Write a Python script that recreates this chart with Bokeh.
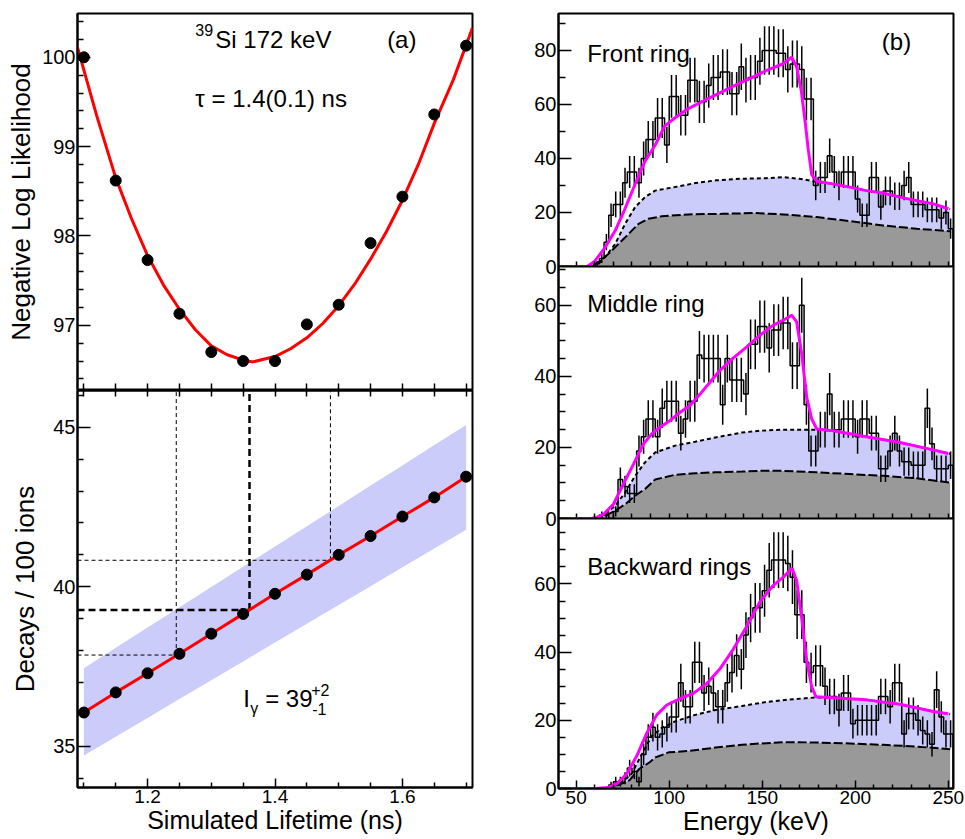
import numpy as np
from bokeh.plotting import figure
from bokeh.models import Range1d, FixedTicker, LinearAxis, Label
from bokeh.layouts import row, column
from bokeh.embed import file_html
from bokeh.resources import INLINE

FONT = "Liberation Sans"

# ---------------- (a) lifetime scan ----------------
lifetime = [1.10, 1.15, 1.20, 1.25, 1.30, 1.35, 1.40, 1.45, 1.50, 1.55, 1.60, 1.65, 1.70]
nll = [100.0, 98.62, 97.73, 97.13, 96.70, 96.60, 96.60, 97.01, 97.23, 97.92, 98.44, 99.36, 100.13]
nll_fit_t = [1.09, 1.12, 1.15, 1.175, 1.20, 1.225, 1.25, 1.275, 1.30, 1.325, 1.35, 1.365, 1.40,
             1.425, 1.45, 1.475, 1.50, 1.525, 1.55, 1.575, 1.60, 1.625, 1.65, 1.68, 1.71]
nll_fit_v = [100.11, 99.35, 98.65, 98.19, 97.78, 97.45, 97.18, 96.95, 96.77, 96.67, 96.61, 96.59, 96.65,
             96.74, 96.86, 97.02, 97.22, 97.46, 97.74, 98.05, 98.40, 98.80, 99.26, 99.75, 100.33]

decays = [36.06, 36.69, 37.29, 37.90, 38.53, 39.15, 39.78, 40.38, 41.00, 41.59, 42.20, 42.80, 43.45]
band_hi = [37.45, 38.09, 38.72, 39.36, 39.99, 40.63, 41.26, 41.90, 42.53, 43.17, 43.80, 44.44, 45.07]
band_lo = [34.71, 35.30, 35.89, 36.48, 37.07, 37.66, 38.25, 38.84, 39.43, 40.02, 40.61, 41.20, 41.79]
tau_marks = [1.245, 1.36, 1.487]     # lower, best, upper lifetime
iy_marks = [37.86, 39.27, 40.83]     # corresponding intensities

t_major = [1.2, 1.4, 1.6]
t_minor = [1.1, 1.15, 1.25, 1.3, 1.35, 1.45, 1.5, 1.55, 1.65, 1.7]
nll_major = [97, 98, 99, 100]
nll_minor = [96.4, 96.6, 96.8, 97.2, 97.4, 97.6, 97.8, 98.2, 98.4, 98.6, 98.8,
             99.2, 99.4, 99.6, 99.8, 100.2, 100.4]
dec_major = [35, 40, 45]
dec_minor = [34, 36, 37, 38, 39, 41, 42, 43, 44, 46]

# ---------------- (b) energy spectra ----------------
bin_start = 40.0
bin_width = 2.5
front = [0, 0, 0, 0, 0, 0, 0, 0,
         1, 3, 9, 19, 23, 23, 31, 35, 35, 31, 40, 47, 47, 55, 55, 45,
         63, 63, 56, 56, 69, 69, 61, 61, 67, 70, 70, 72, 72, 64, 64, 74, 69, 70, 70, 76,
         80, 80, 80, 79, 79, 73, 75, 75, 73, 62, 62, 30, 33, 33, 41, 35, 30, 35, 35, 35,
         25, 19, 19, 33, 33, 22, 28, 28, 26, 26, 30, 33, 23, 23, 23, 21, 21, 21, 18, 20,
         14]
middle = [0, 0, 0, 0, 0, 0, 0, 0,
          0, 1, 1, 0, 2, 11, 9, 7, 7, 19, 23, 28, 28, 23, 31, 33,
          33, 33, 24, 28, 33, 33, 46, 45, 45, 45, 45, 32, 45, 39, 39, 39, 35, 49, 49, 54,
          54, 48, 53, 53, 55, 55, 43, 43, 60, 32, 19, 19, 25, 25, 35, 25, 25, 28, 28, 28,
          23, 28, 28, 24, 24, 14, 14, 19, 24, 19, 16, 16, 15, 15, 15, 31, 21, 14, 14, 14,
          15]
backward = [0, 0, 0, 0, 0, 0, 0, 0,
            0, 0, 0, 1, 2, 2, 3, 6, 5, 2, 10, 15, 18, 15, 16, 18,
            21, 21, 31, 24, 24, 37, 37, 28, 30, 28, 24, 24, 31, 34, 39, 35, 45, 50, 53, 53,
            58, 64, 67, 67, 67, 66, 62, 51, 51, 37, 34, 36, 36, 30, 27, 27, 23, 28, 28, 19,
            20, 20, 20, 20, 20, 27, 27, 24, 31, 31, 16, 22, 22, 20, 17, 16, 13, 29, 21, 16,
            16]

# total fit (magenta)
tot1_e = [40, 56, 60, 65, 71, 76, 82, 87, 92.5, 97.5, 103, 110, 119, 128, 137, 146, 152.4, 161,
          165.8, 168.5, 171, 173, 174.8, 176.6, 179.3, 188, 197, 206, 215, 224, 233, 242, 250]
tot1_v = [0, 0, 2, 6.5, 13.3, 21, 31, 39, 45, 52, 55, 58.4, 61.5, 64.6, 67.6, 70.5, 72.6, 75,
          77.5, 74, 65, 54, 43, 34, 31.6, 30.6, 29.4, 28.1, 27.2, 25.7, 24.4, 23.2, 21.4]
tot2_e = [40, 58, 61, 64.7, 70, 75.4, 80.8, 86.2, 90.6, 95.1, 100.5, 105.9, 111.2, 116.6, 122, 127.3,
          134.5, 141.7, 148.8, 156, 161.3, 165.8, 168.5, 171.2, 173.9, 176.6, 179.3, 188.2, 206.1,
          224, 241.9, 250]
tot2_v = [0, 0, 0.3, 1.2, 4, 9.7, 15.3, 21, 23.8, 25.7, 27.6, 29.9, 31.8, 35, 38.4, 41.7,
          45.2, 48.3, 51.6, 54.4, 55.8, 57.2, 55.3, 46.4, 34.1, 28, 25.2, 24.7, 23,
          21.4, 19.3, 18.3]
tot3_e = [40, 60, 66.5, 71.8, 77.2, 82.6, 88, 93.3, 98.7, 105.9, 113, 120.2, 127.3, 134.5, 141.7,
          148.8, 156, 161.3, 166, 168.5, 171.2, 173.9, 176.6, 178.9, 188.2, 206.1, 224, 241.9, 250]
tot3_v = [0, 0, 0.2, 1.4, 4.3, 9.6, 16.3, 21.6, 24.5, 26.4, 27.9, 30.8, 35.1, 40.9, 47.6,
          54.8, 59.6, 62, 64.6, 61, 50, 37.5, 29.8, 26.9, 26.6, 26, 24.7, 22.6, 21.9]

# upper background (short dashes, top of blue area)
bgu1_e = [40, 58, 62, 65.6, 71, 76.3, 81.7, 87, 92.5, 103, 114, 125, 139, 152, 161, 170, 179.3,
          188, 197, 206, 215, 224, 233, 242, 251]
bgu1_v = [0, 0, 1, 3.5, 8.4, 15.8, 22, 25.7, 28.1, 29.4, 30.9, 31.9, 32.5, 32.7, 33.1, 32.5, 31.4,
          30.6, 29.4, 28.1, 27.2, 25.7, 24.4, 23.2, 21.3]
bgu2_e = [40, 60, 65.6, 71, 76.3, 81.7, 87, 92.5, 103.2, 114, 124.8, 139.1, 149, 161.3, 170, 179.3,
          188.2, 206.1, 224, 241.9, 251]
bgu2_v = [0, 0, 1.2, 3.6, 7.3, 12, 15.8, 18.6, 20.5, 21.6, 22.8, 24.2, 24.7, 25, 25, 25,
          24.7, 23, 21.4, 19.3, 18.2]
bgu3_e = [40, 66, 73.6, 79.8, 85.2, 90.6, 96, 103.2, 114, 124.8, 139.1, 152.4, 166.7, 178.9, 188.2,
          206.1, 224, 241.9, 251]
bgu3_v = [0, 0, 1.5, 4.3, 10, 15.4, 17.8, 19.7, 21.6, 23, 24.2, 25.4, 26.2, 26.7, 26.6,
          26, 24.7, 22.6, 21.8]

# lower background (long dashes, top of grey area)
bgl1_e = [40, 56.6, 62, 67.4, 72.8, 78.1, 83.5, 88.9, 96, 110.4, 128.2, 146, 161.3, 179.3, 197.2,
          215, 233, 251]
bgl1_v = [0, 0, 1.6, 4.7, 8.4, 12, 15.8, 17.7, 18.6, 19.3, 19.5, 19.8, 19.3, 18.3, 16.8,
          15.2, 14, 13.1]
bgl2_e = [40, 60, 65.6, 71, 76.3, 81.7, 87, 92.5, 103.2, 114, 124.8, 139.1, 149, 161.3, 179.3,
          197.2, 215.1, 233, 251]
bgl2_v = [0, 0, 0.75, 2.2, 4, 6.4, 8.3, 11, 12.3, 12.7, 13, 13.2, 13.4, 13.4, 13,
          12.5, 12, 11.3, 10.1]
bgl3_e = [40, 66, 70.5, 78.6, 84, 89.5, 92.5, 99.7, 110.4, 124.8, 139.1, 149, 161.3, 179.3, 197.2,
          215.1, 233, 251]
bgl3_v = [0, 0, 0.5, 2.4, 5.8, 7.7, 9.1, 10.6, 11, 12, 12.8, 13.2, 13.6, 13.5, 13.2,
          12.8, 12.3, 11.5]

e_major = [50, 100, 150, 200, 250]
e_minor = [60, 70, 80, 90, 110, 120, 130, 140, 160, 170, 180, 190, 210, 220, 230, 240]

BLUE = "#ccccfa"
GREY = "#999999"
OVERLAP = 12   # room kept under a stacked panel for its "0" label; the next panel overlaps it


def make_fig(xr, yr, fw, fh, mbl, mbr, mbt, mbb, margin=None, border_fill="white"):
    kw = {}
    if margin is not None:
        kw["margin"] = margin
    p = figure(x_range=Range1d(*xr), y_range=Range1d(*yr), frame_width=fw, frame_height=fh,
               min_border_left=mbl, min_border_right=mbr, min_border_top=mbt,
               min_border_bottom=mbb, output_backend="svg", toolbar_location=None, tools="", **kw)
    p.xgrid.visible = False
    p.ygrid.visible = False
    p.outline_line_color = "black"
    p.outline_line_width = 2
    p.outline_line_alpha = 1
    p.background_fill_color = "white"
    p.border_fill_color = border_fill
    return p


def set_axis(ax, major, minor, tin, min_in, fsize="20px", standoff=2):
    ax.ticker = FixedTicker(ticks=major, minor_ticks=minor)
    ax.major_tick_in = tin
    ax.major_tick_out = 0
    ax.minor_tick_in = min_in
    ax.minor_tick_out = 0
    ax.axis_line_width = 2
    ax.axis_line_color = "black"
    ax.major_tick_line_width = 1.5
    ax.minor_tick_line_width = 1.5
    ax.major_tick_line_color = "black"
    ax.minor_tick_line_color = "black"
    ax.major_label_text_font = FONT
    ax.major_label_text_color = "black"
    ax.major_label_text_font_size = fsize
    ax.major_label_standoff = standoff
    ax.axis_label_text_font = FONT
    ax.axis_label_text_font_style = "normal"
    ax.axis_label_text_font_size = "26px"
    ax.axis_label_text_color = "black"


def set_bare_axis(ax, ticks, tin):
    # tick marks only (no labels): every tick is drawn as a minor tick
    ax.ticker = FixedTicker(ticks=[], minor_ticks=ticks)
    ax.major_tick_in = 0
    ax.major_tick_out = 0
    ax.minor_tick_in = tin
    ax.minor_tick_out = 0
    ax.minor_tick_line_width = 1.5
    ax.minor_tick_line_color = "black"
    ax.axis_line_width = 2
    ax.axis_line_color = "black"
    ax.major_label_standoff = 0


def label(p, x, y, text, size="24px", xo=0, yo=0, align="left", baseline="middle"):
    p.add_layout(Label(x=x, y=y, text=text, x_offset=xo, y_offset=yo, text_font=FONT,
                       text_font_size=size, text_baseline=baseline, text_align=align,
                       text_color="black"))


T_RANGE = (1.09, 1.71)
t_all = sorted(t_major + t_minor)

# ---- panel (a) top: NLL ----
pa = make_fig(T_RANGE, (96.27, 100.49), 395, 377, 77, 8, 13, 0)
set_bare_axis(pa.xaxis[0], t_all, 7)
set_axis(pa.yaxis[0], nll_major, nll_minor, 13, 6, fsize="20px")
pa.yaxis[0].axis_label = "Negative Log Likelihood"
pa.yaxis[0].axis_label_standoff = 3
pa.line(nll_fit_t, nll_fit_v, line_color="#ff0000", line_width=3)
pa.scatter(lifetime, nll, size=11, color="black")
label(pa, 1.275, 100.20, "39", size="16px", yo=9)
label(pa, 1.275, 100.20, "Si 172 keV", xo=20)
label(pa, 1.576, 100.20, "(a)")
label(pa, 1.275, 99.54, "τ = 1.4(0.1) ns")

# ---- panel (a) bottom: decays ----
D_RANGE = (33.71, 46.15)
pb = make_fig(T_RANGE, D_RANGE, 395, 397, 77, 8, 0, 0)
set_axis(pb.xaxis[0], t_major, t_minor, 9, 5, fsize="19px")
pb.xaxis[0].axis_label = "Simulated Lifetime (ns)"
pb.xaxis[0].axis_label_text_font_size = "25px"
pb.xaxis[0].axis_label_standoff = 0
top_ax = LinearAxis()
set_bare_axis(top_ax, t_all, 6)
pb.add_layout(top_ax, "above")
set_axis(pb.yaxis[0], dec_major, dec_minor, 13, 6, fsize="20px")
pb.yaxis[0].axis_label = "Decays / 100 ions"
pb.yaxis[0].axis_label_standoff = 10
pb.patch(lifetime + lifetime[::-1], band_hi + band_lo[::-1], fill_color=BLUE, line_color=None)
x_left = T_RANGE[0]
y_top = D_RANGE[1]
for i, (t, v) in enumerate(zip(tau_marks, iy_marks)):
    w = 2.5 if i == 1 else 1
    dash = "7 4" if i == 1 else "4 3"
    pb.segment(x0=[x_left], y0=[v], x1=[t], y1=[v], line_color="black", line_width=w, line_dash=dash)
    pb.segment(x0=[t], y0=[v], x1=[t], y1=[y_top], line_color="black", line_width=w, line_dash=dash)
pb.line(lifetime, decays, line_color="#ff0000", line_width=3)
pb.scatter(lifetime, decays, size=11, color="black")
label(pb, 1.35, 36.51, "I")
label(pb, 1.35, 36.51, "γ", size="16px", xo=7, yo=-10)
label(pb, 1.35, 36.51, "= 39", xo=22)
label(pb, 1.35, 36.51, "+2", size="16px", xo=68, yo=8)
label(pb, 1.35, 36.51, "-1", size="16px", xo=69, yo=-11)

# ---- panel (b): spectra ----
E_RANGE = (40.5, 252.8)
edges = [bin_start + bin_width * i for i in range(len(front) + 1)]
e_all = sorted(e_major + e_minor)


def spectrum(counts, tot_e, tot_v, bgu_e, bgu_v, bgl_e, bgl_v, ymax, fh, mbt, y_major, y_minor,
             bottom=False, first=False):
    margin = None if first else (-OVERLAP, 0, 0, 0)
    border_fill = "white" if first else None
    mbb = 0 if bottom else OVERLAP
    p = make_fig(E_RANGE, (0, ymax), 395, fh, 78, 12, mbt, mbb, margin=margin,
                 border_fill=border_fill)
    if bottom:
        set_axis(p.xaxis[0], e_major, e_minor, 8, 4, fsize="19px")
        p.xaxis[0].axis_label = "Energy (keV)"
        p.xaxis[0].axis_label_text_font_size = "25px"
        p.xaxis[0].axis_label_standoff = 0
    else:
        set_bare_axis(p.xaxis[0], e_all, 5)
    set_axis(p.yaxis[0], y_major, y_minor, 13, 7, fsize="20px")
    # grey area under the lower background
    p.patch(bgl_e + [bgl_e[-1], bgl_e[0]], bgl_v + [0, 0], fill_color=GREY, line_color=None)
    # blue area between backgrounds
    p.patch(bgu_e + bgl_e[::-1], bgu_v + bgl_v[::-1], fill_color=BLUE, line_color=None)
    p.line(bgl_e, bgl_v, line_color="black", line_width=2, line_dash="9 3")
    p.line(bgu_e, bgu_v, line_color="black", line_width=2, line_dash="4 3")
    # histogram
    ys = list(counts) + [0]
    p.step(edges, ys, mode="after", line_color="black", line_width=1.5)
    c = np.array(counts, dtype=float)
    centers = np.array(edges[:-1]) + bin_width / 2
    m = c > 0
    err = np.sqrt(c[m])
    p.segment(x0=centers[m], y0=c[m] - err, x1=centers[m], y1=c[m] + err,
              line_color="black", line_width=1.5)
    p.line(tot_e, tot_v, line_color="#ff00ff", line_width=3)
    return p


pc = spectrum(front, tot1_e, tot1_v, bgu1_e, bgu1_v, bgl1_e, bgl1_v, 93.7, 253, 13,
              [0, 20, 40, 60, 80], [10, 30, 50, 70, 90], first=True)
label(pc, 55.9, 78.9, "Front ring")
label(pc, 214.3, 83.3, "(b)")

pd = spectrum(middle, tot2_e, tot2_v, bgu2_e, bgu2_v, bgl2_e, bgl2_v, 70.9, 252, 0,
              [0, 20, 40, 60], [5, 10, 15, 25, 30, 35, 45, 50, 55, 65, 70])
label(pd, 55.9, 60.5, "Middle ring")

pe = spectrum(backward, tot3_e, tot3_v, bgu3_e, bgu3_v, bgl3_e, bgl3_v, 79.2, 270, 0,
              [0, 20, 40, 60], [5, 10, 15, 25, 30, 35, 45, 50, 55, 65, 70, 75], bottom=True)
label(pe, 55.9, 65.1, "Backward rings")

layout = row(column(pa, pb), column(pc, pd, pe))
open("out.html", "w").write(file_html(layout, INLINE))
